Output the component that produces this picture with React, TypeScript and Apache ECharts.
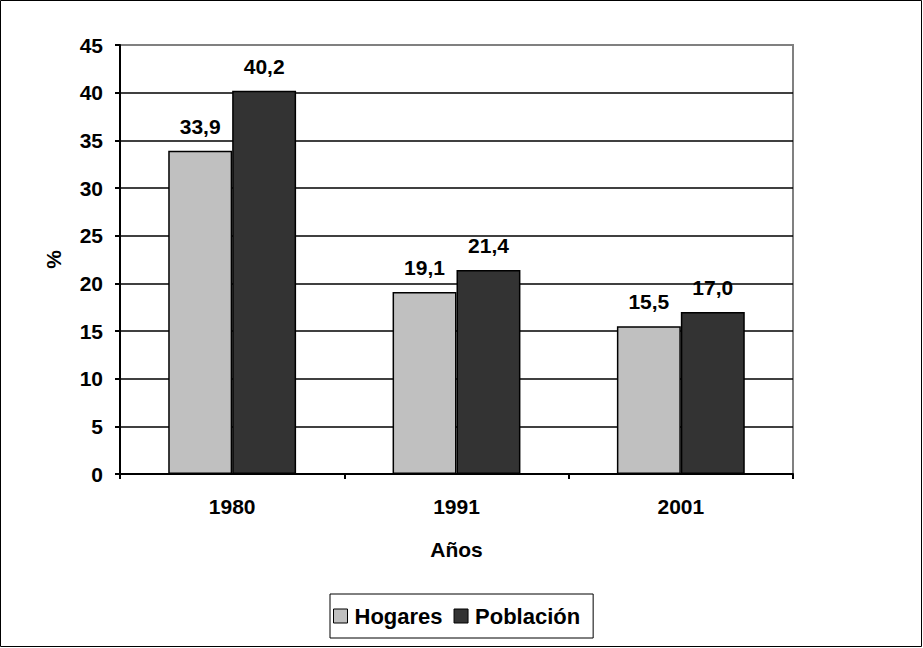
import React, { useEffect, useRef } from "react";
import * as echarts from "echarts";

const categories = ["1980", "1991", "2001"];
const hogares = [33.9, 19.1, 15.5];
const poblacion = [40.2, 21.4, 17.0];
const seriesNames = ["Hogares", "Población"];

const FONT = "Arial, 'Liberation Sans', sans-serif";
const FS = 21;

export default function App() {
  const ref = useRef<HTMLDivElement>(null);
  useEffect(() => {
    if (!ref.current) return;
    const chart = echarts.init(ref.current, null, { renderer: "svg" });
    const label = {
      show: true,
      position: "top",
      distance: 14,
      color: "#000",
      fontFamily: FONT,
      fontWeight: "bold",
      fontSize: FS,
      formatter: (p: any) => p.value.toFixed(1).replace(".", ","),
    };
    chart.setOption({
      animation: false,
      backgroundColor: "#fff",
      textStyle: { fontFamily: FONT },
      grid: {
        left: 120,
        top: 45,
        right: 130,
        bottom: 174,
        show: true,
        borderColor: "#808080",
        borderWidth: 2,
        backgroundColor: "transparent",
      },
      legend: {
        bottom: 10,
        left: 330,
        itemWidth: 14,
        itemHeight: 14,
        itemGap: 11,
        padding: [11, 13, 11, 3],
        borderColor: "#000",
        borderWidth: 1,
        textStyle: { fontFamily: FONT, fontWeight: "bold", fontSize: 22, color: "#000", padding: [0, 0, 0, 2] },
        data: seriesNames.map((n) => ({ name: n, icon: "rect", itemStyle: { borderColor: "#000", borderWidth: 1 } })),
      },
      xAxis: {
        type: "category",
        data: categories,
        name: "Años",
        nameLocation: "middle",
        nameGap: 65,
        nameTextStyle: { fontFamily: FONT, fontWeight: "bold", fontSize: FS, color: "#000" },
        axisLine: { lineStyle: { color: "#000", width: 2 } },
        axisTick: { show: true, length: 5, lineStyle: { color: "#000", width: 2 } },
        axisLabel: { margin: 22, fontFamily: FONT, fontWeight: "bold", fontSize: FS, color: "#000" },
      },
      yAxis: {
        type: "value",
        min: 0,
        max: 45,
        interval: 5,
        name: "%",
        nameLocation: "middle",
        nameGap: 56,
        nameTextStyle: { fontFamily: FONT, fontWeight: "bold", fontSize: FS, color: "#000" },
        axisLine: { show: true, lineStyle: { color: "#000", width: 2 } },
        axisTick: { show: true, length: 5, lineStyle: { color: "#000", width: 2 } },
        axisLabel: { margin: 17, fontFamily: FONT, fontWeight: "bold", fontSize: FS, color: "#000" },
        splitLine: { show: true, showMaxLine: false, lineStyle: { color: "#000", width: 1.5 } },
      },
      series: [
        {
          name: seriesNames[0],
          type: "bar",
          data: hogares,
          barGap: "0%",
          barCategoryGap: "43%",
          itemStyle: { color: "#C0C0C0", borderColor: "#000", borderWidth: 1.5 },
          label,
        },
        {
          name: seriesNames[1],
          type: "bar",
          data: poblacion,
          barGap: "0%",
          barCategoryGap: "43%",
          itemStyle: { color: "#333333", borderColor: "#000", borderWidth: 1.5 },
          label,
        },
      ],
      graphic: [
        {
          type: "rect",
          shape: { x: 0.5, y: 0.5, width: 921, height: 646 },
          style: { fill: "none", stroke: "#000", lineWidth: 1 },
          silent: true,
        },
      ],
    });
    return () => chart.dispose();
  }, []);
  return (
    <div style={{ position: "fixed", left: 0, top: 0, width: 923, height: 648 }}>
      <div ref={ref} style={{ width: 923, height: 648 }} />
    </div>
  );
}
